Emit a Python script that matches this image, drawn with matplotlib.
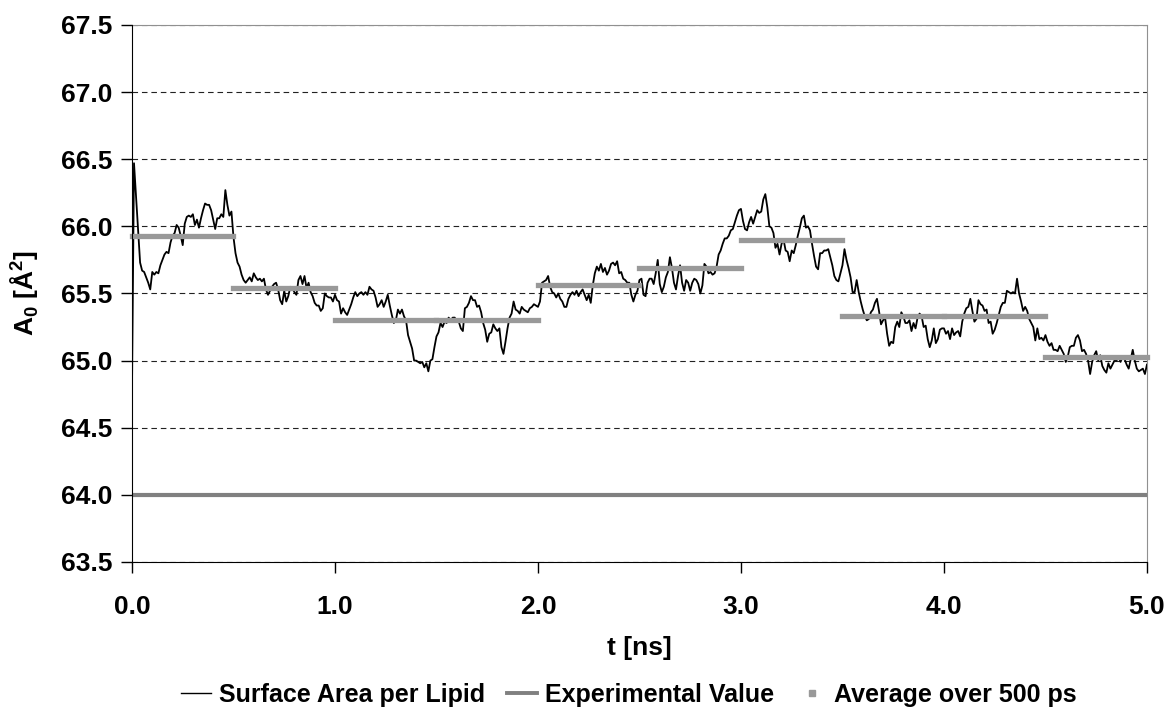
import numpy as np
import matplotlib
matplotlib.use("Agg")
import matplotlib.pyplot as plt
from matplotlib.lines import Line2D

plt.rcParams["font.family"] = ["Liberation Sans", "DejaVu Sans"]
plt.rcParams["font.weight"] = "bold"
plt.rcParams["axes.labelweight"] = "bold"

# ===== data: surface area per lipid, one sample every 10 ps =====
DT = 0.01  # ns

area_0_1 = [
    64.78, 66.47, 66.22, 65.97, 65.73, 65.67, 65.66, 65.62, 65.58, 65.53,
    65.66, 65.64, 65.66, 65.65, 65.71, 65.75, 65.79, 65.81, 65.80, 65.88,
    65.93, 65.95, 66.01, 65.99, 65.93, 65.86, 66.02, 66.07, 66.08, 66.07,
    66.09, 66.01, 66.05, 65.99, 66.06, 66.12, 66.17, 66.16, 66.16, 66.12,
    66.05, 65.98, 66.06, 66.06, 66.09, 66.07, 66.27, 66.16, 66.08, 66.11,
    65.92, 65.80, 65.73, 65.70, 65.64, 65.60, 65.58, 65.60, 65.62, 65.59,
    65.65, 65.62, 65.60, 65.61, 65.59, 65.61, 65.53, 65.49, 65.52, 65.55,
    65.57, 65.58, 65.53, 65.45, 65.42, 65.52, 65.44, 65.48, 65.55, 65.54,
    65.51, 65.49, 65.60, 65.63, 65.57, 65.63, 65.54, 65.58, 65.51, 65.48,
    65.43, 65.41, 65.41, 65.37, 65.39, 65.50, 65.48, 65.47, 65.47, 65.44,
]
area_1_2 = [
    65.49, 65.45, 65.44, 65.35, 65.39, 65.36, 65.34, 65.38, 65.42, 65.47,
    65.51, 65.48, 65.50, 65.51, 65.49, 65.51, 65.49, 65.55, 65.53, 65.52,
    65.47, 65.40, 65.42, 65.45, 65.40, 65.44, 65.49, 65.41, 65.34, 65.28,
    65.30, 65.38, 65.35, 65.38, 65.33, 65.30, 65.19, 65.14, 65.09, 65.00,
    65.00, 64.99, 64.98, 64.99, 64.95, 64.98, 64.92, 65.00, 65.01, 65.10,
    65.18, 65.21, 65.28, 65.25, 65.29, 65.28, 65.32, 65.30, 65.32, 65.32,
    65.29, 65.29, 65.24, 65.22, 65.39, 65.40, 65.43, 65.48, 65.45, 65.45,
    65.40, 65.41, 65.36, 65.28, 65.23, 65.14, 65.20, 65.21, 65.27, 65.24,
    65.22, 65.24, 65.10, 65.05, 65.14, 65.24, 65.32, 65.35, 65.44, 65.38,
    65.37, 65.35, 65.40, 65.38, 65.37, 65.36, 65.39, 65.40, 65.42, 65.41,
]
area_2_3 = [
    65.40, 65.44, 65.58, 65.59, 65.60, 65.63, 65.55, 65.51, 65.50, 65.47,
    65.50, 65.46, 65.44, 65.40, 65.40, 65.46, 65.49, 65.51, 65.49, 65.52,
    65.48, 65.51, 65.53, 65.49, 65.45, 65.49, 65.43, 65.56, 65.65, 65.70,
    65.67, 65.72, 65.66, 65.69, 65.64, 65.67, 65.72, 65.73, 65.71, 65.74,
    65.65, 65.66, 65.61, 65.60, 65.58, 65.58, 65.49, 65.44, 65.49, 65.52,
    65.60, 65.61, 65.49, 65.48, 65.58, 65.61, 65.61, 65.57, 65.65, 65.75,
    65.57, 65.51, 65.55, 65.62, 65.66, 65.77, 65.69, 65.58, 65.53, 65.63,
    65.71, 65.58, 65.52, 65.60, 65.58, 65.52, 65.58, 65.61, 65.60, 65.57,
    65.50, 65.56, 65.72, 65.70, 65.65, 65.66, 65.64, 65.65, 65.70, 65.79,
    65.82, 65.87, 65.91, 65.91, 65.93, 65.97, 65.98, 66.03, 66.08, 66.12,
]
area_3_4 = [
    66.13, 66.04, 65.98, 65.97, 66.03, 66.07, 66.02, 66.07, 66.12, 66.10,
    66.11, 66.20, 66.24, 66.14, 66.00, 65.99, 65.95, 65.84, 65.87, 65.79,
    65.87, 65.90, 65.82, 65.81, 65.74, 65.82, 65.80, 65.86, 65.93, 65.99,
    66.06, 66.08, 65.99, 66.00, 65.97, 65.87, 65.78, 65.70, 65.68, 65.80,
    65.80, 65.82, 65.82, 65.83, 65.77, 65.71, 65.63, 65.60, 65.59, 65.65,
    65.71, 65.83, 65.75, 65.69, 65.62, 65.51, 65.51, 65.60, 65.51, 65.44,
    65.38, 65.33, 65.30, 65.31, 65.36, 65.38, 65.43, 65.46, 65.37, 65.27,
    65.30, 65.32, 65.20, 65.11, 65.14, 65.13, 65.25, 65.29, 65.25, 65.36,
    65.33, 65.28, 65.28, 65.30, 65.22, 65.28, 65.24, 65.32, 65.35, 65.33,
    65.25, 65.26, 65.16, 65.10, 65.15, 65.24, 65.13, 65.16, 65.23, 65.24,
]
area_4_5 = [
    65.24, 65.20, 65.22, 65.16, 65.24, 65.19, 65.21, 65.22, 65.18, 65.29,
    65.35, 65.39, 65.40, 65.46, 65.37, 65.29, 65.31, 65.45, 65.42, 65.41,
    65.37, 65.38, 65.28, 65.29, 65.20, 65.23, 65.28, 65.34, 65.40, 65.43,
    65.43, 65.52, 65.51, 65.50, 65.51, 65.50, 65.61, 65.50, 65.44, 65.37,
    65.40, 65.37, 65.31, 65.28, 65.25, 65.15, 65.24, 65.16, 65.17, 65.15,
    65.19, 65.14, 65.11, 65.13, 65.08, 65.08, 65.07, 65.11, 65.08, 65.05,
    64.99, 65.03, 65.10, 65.11, 65.11, 65.17, 65.19, 65.15, 65.07, 65.08,
    65.05, 65.00, 64.90, 64.99, 65.04, 65.07, 65.00, 65.04, 64.96, 64.93,
    64.91, 64.98, 64.94, 64.97, 65.00, 65.00, 65.03, 64.99, 65.03, 65.01,
    64.97, 64.94, 65.01, 65.08, 65.00, 64.94, 64.92, 64.93, 64.94, 64.90,
    64.97,
]

# averages over 500 ps windows
avg_start = [0.0, 0.5, 1.0, 1.5, 2.0, 2.5, 3.0, 3.5, 4.0, 4.5]
avg_value = [65.93, 65.54, 65.30, 65.30, 65.56, 65.69, 65.90, 65.33, 65.33, 65.03]
AVG_WINDOW = 0.5

EXP_VALUE = 64.0

area = np.concatenate([area_0_1, area_1_2, area_2_3, area_3_4, area_4_5])
t = np.arange(len(area)) * DT

# ===== plot =====
FS = 19
fig = plt.figure(figsize=(11.7, 7.19), dpi=100)
ax = fig.add_axes([0.1128, 0.2184, 0.8675, 0.7469])

ax.plot(t, area, color="black", lw=1.3, zorder=3)
ax.axhline(EXP_VALUE, color="#808080", lw=3.0, zorder=4)
starts = np.array(avg_start)
ax.hlines(avg_value, starts, starts + AVG_WINDOW, color="#999999", lw=3.8,
          capstyle="projecting", zorder=5, clip_on=False)

ax.set_xlim(0, 5)
ax.set_ylim(63.5, 67.5)
ax.set_xticks(np.arange(0, 5.01, 1.0))
ax.set_yticks(np.arange(63.5, 67.51, 0.5))
ax.xaxis.set_major_formatter(plt.FormatStrFormatter("%.1f"))
ax.yaxis.set_major_formatter(plt.FormatStrFormatter("%.1f"))
ax.tick_params(axis="both", direction="out", length=8, width=1, labelsize=FS)
ax.tick_params(axis="x", pad=16)
ax.tick_params(axis="y", pad=6)

ax.grid(axis="y", color="#222222", lw=0.8, linestyle=(0, (5, 3.5)))
ax.set_axisbelow(True)

for side in ("top", "right"):
    ax.spines[side].set_color("#909090")
for side in ("left", "bottom"):
    ax.spines[side].set_color("black")
    ax.spines[side].set_zorder(6)

ax.set_xlabel("t [ns]", fontsize=FS, fontweight="bold")
ax.xaxis.set_label_coords(0.5, -0.138)
ax.set_ylabel(r"A$_\mathregular{0}$ [Å$^\mathregular{2}$]", fontsize=FS,
              fontweight="bold")
ax.yaxis.set_label_coords(-0.09, 0.5)

handles = [
    Line2D([], [], color="black", lw=1.0),
    Line2D([], [], color="#808080", lw=2.8),
    Line2D([], [], color="#999999", lw=0, marker="s", markersize=4),
]
labels = ["Surface Area per Lipid", "Experimental Value", "Average over 500 ps"]
fig.legend(handles, labels, loc="center", bbox_to_anchor=(0.5376, 0.034),
           ncol=3, frameon=False, fontsize=18, handlelength=1.2,
           handletextpad=0.3, columnspacing=0.9)

fig.savefig("out.png", dpi=100)
plt.close(fig)
